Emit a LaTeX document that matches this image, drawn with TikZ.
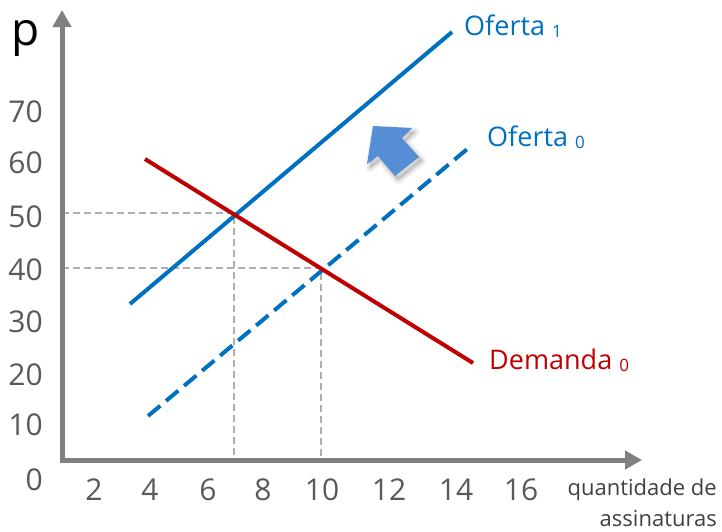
\documentclass[tikz,border=0pt]{standalone}
\usepackage{fontspec}
\setmainfont{Open Sans}
\usetikzlibrary{arrows.meta}
\definecolor{axisgray}{RGB}{128,128,128}
\definecolor{ticklab}{RGB}{89,89,89}
\definecolor{gridgray}{RGB}{175,175,175}
\definecolor{supblue}{RGB}{0,112,192}
\definecolor{demred}{RGB}{192,0,0}
\definecolor{shiftblue}{RGB}{85,142,213}
\definecolor{axtext}{RGB}{64,64,64}
\newcommand{\lowsub}[1]{{\fontsize{17}{20}\selectfont\raisebox{-2pt}{#1}}}
\begin{document}
\begin{tikzpicture}[x=1pt,y=-1pt,
  axisline/.style={draw=axisgray,line width=5pt,line join=miter,
    {Triangle[length=17pt,width=18pt]}-{Triangle[length=17pt,width=18pt]}},
  gridline/.style={draw=gridgray,line width=1.1pt,dash pattern=on 7pt off 4pt},
  curve/.style={line width=4pt},
  dashcurve/.style={line width=4pt,dash pattern=on 16pt off 7.5pt},
  ticky/.style={inner sep=0pt,anchor=base east,text=ticklab,font=\fontsize{30}{36}\selectfont},
  tickx/.style={inner sep=0pt,anchor=base,text=ticklab,font=\fontsize{30}{36}\selectfont},
  curvelab/.style={inner sep=0pt,anchor=base west,font=\fontsize{27}{32}\selectfont},
  axlab/.style={inner sep=0pt,anchor=base east,text=axtext,font=\fontsize{22}{26}\selectfont}
]
\useasboundingbox (0,0) rectangle (722,531);
% key points
\coordinate (O) at (62,460);
\coordinate (ytip) at (62,10);
\coordinate (xtip) at (642,460);
\coordinate (e1) at (234,213);
\coordinate (e0) at (321,268);
\coordinate (d0a) at (145,159);
\coordinate (d0b) at (473,363);
\coordinate (s1a) at (130,304);
\coordinate (s1b) at (452,32);
\coordinate (s0a) at (148,416);
\coordinate (s0b) at (472,145);
% guide lines
\draw[gridline] (O |- e1) -- (e1) -- (e1 |- O);
\draw[gridline] (O |- e0) -- (e0) -- (e0 |- O);
% axes
\draw[axisline] (ytip) -- (O) -- (xtip);
% curves
\draw[curve,supblue] (s1a) -- (s1b);
\draw[dashcurve,supblue] (s0a) -- (s0b);
\draw[curve,demred] (d0a) -- (d0b);
% shift arrow with soft shadow
\begin{scope}[shift={(3,4)}]
  \foreach \w/\o in {9/0.04,6/0.05,3/0.07}{
    \draw[black,opacity=\o,line width=\w pt,line join=round]
      (373,126) -- (412,128) -- (402,138) -- (419,157) -- (395,176) -- (378,156) -- (367,164) -- cycle;}
  \fill[black,opacity=0.12] (373,126) -- (412,128) -- (402,138) -- (419,157) -- (395,176) -- (378,156) -- (367,164) -- cycle;
\end{scope}
\fill[shiftblue] (373,126) -- (412,128) -- (402,138) -- (419,157) -- (395,176) -- (378,156) -- (367,164) -- cycle;
% axis titles
\node[inner sep=0pt,anchor=base,font=\fontsize{46}{50}\selectfont] (plab) at (26,45) {p};
\node[axlab] (q1) at (717,495) {quantidade de};
\node[axlab] (q2) at (717,526) {assinaturas};
% y ticks
\node[ticky] (y70) at (43,122) {70};
\node[ticky] (y60) at (43,173) {60};
\node[ticky] (y50) at (43,227) {50};
\node[ticky] (y40) at (43,280) {40};
\node[ticky] (y30) at (43,332) {30};
\node[ticky] (y20) at (43,385) {20};
\node[ticky] (y10) at (43,435) {10};
\node[ticky] (y0) at (43,490) {0};
% x ticks
\node[tickx] (x2) at (94,500) {2};
\node[tickx] (x4) at (150,500) {4};
\node[tickx] (x6) at (208,500) {6};
\node[tickx] (x8) at (263,500) {8};
\node[tickx] (x10) at (322,500) {10};
\node[tickx] (x12) at (389,500) {12};
\node[tickx] (x14) at (456,500) {14};
\node[tickx] (x16) at (521,500) {16};
% curve labels
\node[curvelab,text=supblue] (lo1) at (464,35) {Oferta \lowsub{1}};
\node[curvelab,text=supblue] (lo0) at (487,146) {Oferta \lowsub{0}};
\node[curvelab,text=demred] (ld0) at (489,369) {Demanda \lowsub{0}};
\end{tikzpicture}
\end{document}
